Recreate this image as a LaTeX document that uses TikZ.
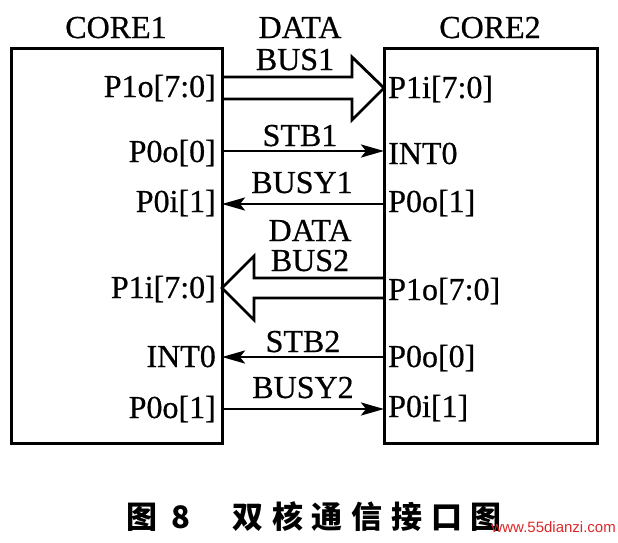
\documentclass[tikz,border=0pt]{standalone}
\usepackage{fontspec}
\setmainfont{Liberation Serif}[FakeBold=0.6]
\newfontfamily\cjk{Noto Sans CJK SC}
\newfontfamily\wmfont{Liberation Sans}
\usetikzlibrary{arrows.meta}
\definecolor{wmred}{RGB}{220,40,40}
\begin{document}
\begin{tikzpicture}[x=1pt,y=-1pt,
  box/.style={draw, line width=3pt, minimum width=211pt, minimum height=395pt, inner sep=0pt, outer sep=0pt},
  lbl/.style={font=\fontsize{32}{34}\selectfont, inner sep=0pt, anchor=base},
  lport/.style={lbl, anchor=base east},
  rport/.style={lbl, anchor=base west},
  sig/.style={line width=2.7pt, -{Stealth[length=23pt,width=13pt,inset=5pt]}},
  bus/.style={line width=2.8pt, line join=miter}]
\useasboundingbox (0,0) rectangle (618,542);
% boxes
\node[box] (c1) at (116.5,245.5) {};
\node[box, minimum width=213pt] (c2) at (490.5,245.5) {};
% titles
\node[lbl] (t1) at (116,38) {CORE1};
\node[lbl] (t2) at (490,38) {CORE2};
% bus 1
\draw[bus] (c1.east |- 0,77) -- (352,77) -- (352,57) -- (c2.west |- 0,88) -- (352,120) -- (352,99) -- (c1.east |- 0,99);
\node[lbl] (d1) at (300,38) {DATA};
\node[lbl] (b1) at (295,70) {BUS1};
\node[lport] (p1o) at (216,97) {P1o[7:0]};
\node[rport] (p1i) at (388,98) {P1i[7:0]};
% STB1
\draw[sig] (c1.east |- 0,151) -- (c2.west |- 0,151);
\node[lbl] (s1) at (300,146) {STB1};
\node[lport] (p0o0) at (216,162) {P0o[0]};
\node[rport] (int0r) at (388,164) {INT0};
% BUSY1
\draw[sig] (c2.west |- 0,204) -- (c1.east |- 0,204);
\node[lbl] (by1) at (302,193) {BUSY1};
\node[lport] (p0i1) at (216,212) {P0i[1]};
\node[rport] (p0o1r) at (388,212) {P0o[1]};
% bus 2
\draw[bus] (c2.west |- 0,278) -- (254,278) -- (254,256) -- (c1.east |- 0,288) -- (254,320) -- (254,298) -- (c2.west |- 0,298);
\node[lbl] (d2) at (310,241) {DATA};
\node[lbl] (b2) at (310,271) {BUS2};
\node[lport] (p1il) at (216,298) {P1i[7:0]};
\node[rport] (p1or) at (388,300) {P1o[7:0]};
% STB2
\draw[sig] (c2.west |- 0,357) -- (c1.east |- 0,357);
\node[lbl] (s2) at (303,352) {STB2};
\node[lport] (int0l) at (216,367) {INT0};
\node[rport] (p0o0r) at (388,367) {P0o[0]};
% BUSY2
\draw[sig] (c1.east |- 0,409) -- (c2.west |- 0,409);
\node[lbl] (by2) at (303,398) {BUSY2};
\node[lport] (p0o1l) at (216,418) {P0o[1]};
\node[rport] (p0i1r) at (388,417) {P0i[1]};
% caption
\node[anchor=west, inner sep=0pt, font=\cjk\bfseries\fontsize{31}{31}\selectfont] (cap) at (126.5,517)
  {图\kern14pt 8\kern42pt 双\kern8.7pt 核\kern8.7pt 通\kern8.7pt 信\kern8.7pt 接\kern8.7pt 口\kern8.7pt 图};
\node[anchor=east, inner sep=0pt, text=wmred, font=\wmfont\fontsize{15}{15}\selectfont] (wm) at (616,527) {www.55dianzi.com};
\end{tikzpicture}
\end{document}
